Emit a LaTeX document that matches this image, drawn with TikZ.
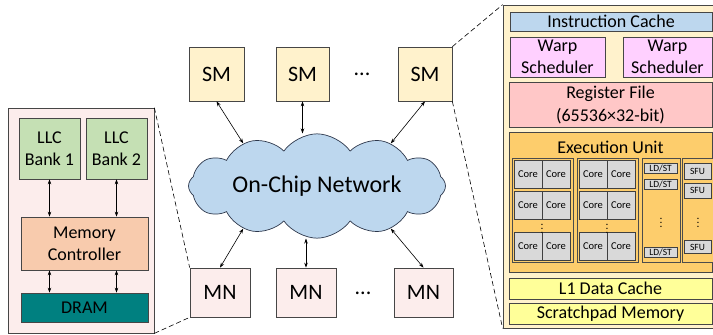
\documentclass[tikz,border=0pt]{standalone}
\usepackage{fontspec}
\setmainfont{Carlito}
\usepackage{tikz}
\usetikzlibrary{arrows.meta,shapes.symbols,calc}
\definecolor{pinkbg}{RGB}{252,237,236}
\definecolor{llcgreen}{RGB}{197,224,180}
\definecolor{mcorange}{RGB}{248,203,173}
\definecolor{dramteal}{RGB}{0,128,128}
\definecolor{smyellow}{RGB}{255,242,204}
\definecolor{netblue}{RGB}{189,215,238}
\definecolor{netline}{RGB}{45,55,75}
\definecolor{warppink}{RGB}{255,208,255}
\definecolor{regred}{RGB}{255,199,199}
\definecolor{exeorange}{RGB}{253,205,108}
\definecolor{coregray}{RGB}{217,217,217}
\definecolor{cacheyellow}{RGB}{255,255,153}
\definecolor{boxline}{RGB}{70,70,70}

\begin{document}
\begin{tikzpicture}[x=1pt,y=-1pt,
  box/.style={draw=boxline,line width=0.7pt,align=center,inner sep=0pt,text=black},
  big/.style={font=\fontsize{18}{22}\selectfont},
  nodebox/.style={box,minimum height=54,font=\fontsize{22}{26}\selectfont},
  group/.style={draw=black!70,line width=1pt,fill=exeorange,minimum height=104},
  corebox/.style={box,draw=black!75,line width=1pt,fill=coregray,minimum width=28,minimum height=28,font=\fontsize{10.5}{12}\selectfont},
  unitbox/.style={box,draw=black!75,line width=1pt,fill=coregray,font=\fontsize{9.5}{11}\selectfont},
  vdotsnode/.style={inner sep=0pt,font=\fontsize{9}{9}\selectfont\bfseries},
  biarrow/.style={<->,>={Stealth[length=5pt,width=3.5pt]},line width=0.6pt},
  zoomline/.style={dash pattern=on 5pt off 3pt,line width=0.6pt}]
\useasboundingbox (0,0) rectangle (713,335);

% memory node
\node (mnbig) at (81,220.5)[box,fill=pinkbg,minimum width=146,minimum height=225] {};
\node (llc1) at (49.5,148.5)[box,big,fill=llcgreen,minimum width=61,minimum height=61] {LLC\\Bank 1};
\node (llc2) at (116.5,148.5)[box,big,fill=llcgreen,minimum width=61,minimum height=61] {LLC\\Bank 2};
\node (mc) at (84.5,243.5)[box,big,fill=mcorange,minimum width=127,minimum height=53] {Memory\\Controller};
\node (dram) at (84.5,307.5)[box,big,fill=dramteal,minimum width=127,minimum height=29] {DRAM};
\draw[biarrow] (llc1.south) -- (llc1.south |- mc.north);
\draw[biarrow] (llc2.south) -- (llc2.south |- mc.north);
\draw[biarrow] (llc1.south |- mc.south) -- (llc1.south |- dram.north);
\draw[biarrow] (llc2.south |- mc.south) -- (llc2.south |- dram.north);

% network
\node (net) at (317,186)[cloud,cloud puffs=12,cloud puff arc=110,aspect=3.2,draw=netline,line width=0.7pt,fill=netblue,minimum width=257,minimum height=82,inner sep=0pt,font=\fontsize{24}{28}\selectfont] {On-Chip Network};

\node (sm1) at (216.5,74)[nodebox,fill=smyellow,minimum width=55] {SM};
\node (sm2) at (302.5,74)[nodebox,fill=smyellow,minimum width=53] {SM};
\node (sm3) at (425,74)[nodebox,fill=smyellow,minimum width=54] {SM};
\node (smdots) at (362,74)[font=\fontsize{22}{26}\selectfont] {...};

\node (mn1) at (220,292.5)[nodebox,fill=pinkbg,minimum width=60,minimum height=49] {MN};
\node (mn2) at (306,292.5)[nodebox,fill=pinkbg,minimum width=60,minimum height=49] {MN};
\node (mn3) at (423.5,292.5)[nodebox,fill=pinkbg,minimum width=59,minimum height=49] {MN};
\node (mndots) at (363,293)[font=\fontsize{22}{26}\selectfont] {...};

\draw[biarrow] (sm1.south) -- (net.150);
\draw[biarrow] (sm2.south) -- (sm2.south |- net.north);
\draw[biarrow] (sm3.south) -- (net.30);
\draw[biarrow] (mn1.north) -- (net.210);
\draw[biarrow] (mn2.north) -- (mn2.north |- net.south);
\draw[biarrow] (mn3.north) -- (net.330);

% streaming multiprocessor
\node (smbig) at (611.5,166.5)[box,fill=smyellow,minimum width=217,minimum height=323] {};
\node (icache) at (611,21.5)[box,big,fill=netblue,minimum width=202,minimum height=19] {Instruction Cache};
\node (warp1) at (557.5,57)[box,big,fill=warppink,minimum width=95,minimum height=40] {Warp\\Scheduler};
\node (warp2) at (667.5,57)[box,big,fill=warppink,minimum width=89,minimum height=40] {Warp\\Scheduler};
\node (regfile) at (610.5,104.5)[box,font=\fontsize{18}{23}\selectfont,fill=regred,minimum width=203,minimum height=45] {Register File\\(65536×32-bit)};
\node (exec) at (610.5,202)[box,fill=exeorange,minimum width=203,minimum height=140] {};
\node (exectitle) at (610.5,147)[big] {Execution Unit};
\node (grp1) at (542.5,210)[group,minimum width=61] {};
\node (grp2) at (607.5,210)[group,minimum width=61] {};
\node (grp3) at (661,210)[group,minimum width=38] {};
\node (grp4) at (698,210)[group,minimum width=32] {};
\foreach \cx/\g in {528/a,593/b}
  \foreach \y/\r in {174/1,205/2,246.5/3} {
    \node (core\g\r l) at (\cx,\y)[corebox] {Core};
    \node (core\g\r r) at (\cx+28,\y)[corebox] {Core};
  }
\node (dotsa) at (542,226)[vdotsnode] {$\vdots$};
\node (dotsb) at (607,226)[vdotsnode] {$\vdots$};
\node (ldst1) at (660.5,168)[unitbox,minimum width=33,minimum height=10] {LD/ST};
\node (ldst2) at (660.5,184.5)[unitbox,minimum width=33,minimum height=10] {LD/ST};
\node (ldst3) at (660.5,252)[unitbox,minimum width=33,minimum height=10] {LD/ST};
\node (dotsc) at (661,220)[vdotsnode] {$\vdots$};
\node (sfu1) at (697.5,171.5)[unitbox,minimum width=27,minimum height=16] {SFU};
\node (sfu2) at (697.5,190.5)[unitbox,minimum width=27,minimum height=15] {SFU};
\node (sfu3) at (697.5,247)[unitbox,minimum width=27,minimum height=13] {SFU};
\node (dotsd) at (698,220)[vdotsnode] {$\vdots$};
\node (l1) at (610.5,288.5)[box,big,fill=cacheyellow,minimum width=203,minimum height=21] {L1 Data Cache};
\node (spad) at (610.5,313.5)[box,big,fill=cacheyellow,minimum width=203,minimum height=21] {Scratchpad Memory};

% zoom lines
\draw[zoomline] (mnbig.north east) -- (mn1.north west);
\draw[zoomline] (mnbig.south east) -- (mn1.south west);
\draw[zoomline] (sm3.north east) -- (smbig.north west);
\draw[zoomline] (sm3.south east) -- (smbig.south west);
\end{tikzpicture}
\end{document}
